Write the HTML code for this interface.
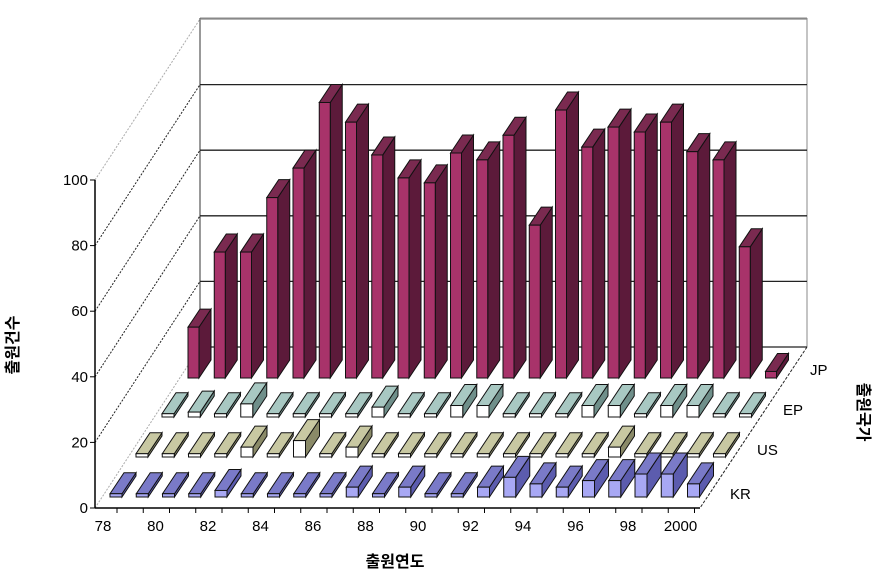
<!DOCTYPE html>
<html><head><meta charset="utf-8"><style>
body{margin:0;background:#fff;}
svg{display:block;font-family:"Liberation Sans","Noto Sans CJK KR",sans-serif;}
</style></head><body>
<svg id="chart" width="885" height="588" viewBox="0 0 885 588">
<g id="frame"></g>
<g id="bars"></g>
<g id="axes"></g>
<text x="395" y="567" font-size="16" text-anchor="middle" font-weight="bold">출원연도</text>
<text transform="translate(18,345) rotate(-90)" font-size="16" text-anchor="middle" font-weight="bold">출원건수</text>
<text transform="translate(858,412) rotate(90)" font-size="16" text-anchor="middle" font-weight="bold">출원국가</text>
</svg>
<script>
const years=["78","79","80","81","82","83","84","85","86","87","88","89","90","91","92","93","94","95","96","97","98","99","2000"];
const xLabels=["78","80","82","84","86","88","90","92","94","96","98","2000"];
const yTicks=[0,20,40,60,80,100];
const rows=["KR","US","EP","JP"];
const jpValues=[15.5,38.4,38.4,55,64,84,78,68,61,59.5,68.6,66.5,74,46.6,81.7,70.4,76.5,75,78,69,66.5,40,2];
const epValues=[1,1.5,1,4,1,1,1,1,3,1,1,3.5,3.5,1,1,1,3.5,3.5,1,3.5,3.5,1,1];
const usValues=[1,1,1,1,3,1,5,1,3,1,1,1,1,1,1,1,1,1,3,1,1,1,1];
const krValues=[1,1,1,1,2,1,1,1,1,3,1,3,1,1,3,6,4,3,5,5,7,7,4];

const NS="http://www.w3.org/2000/svg";
const PX=3.28, X0=103, STEP=26.25, Y0=508;
const rowOff={KR:[7,-11],US:[33,-51],EP:[59,-91],JP:[85,-130]};
const colors={JP:["#a8336a","#5c1a3a","#7a2a50"],EP:["#ffffff","#6f8f8a","#a8c8c2"],US:["#ffffff","#8a8a68","#c8c8a2"],KR:["#a8a8f4","#5c5cae","#7a7ac8"]};
const shape={JP:[11,12,-18],EP:[12,14,-21],US:[12,14,-21],KR:[12,14,-21]};
function xs(i,row){return X0+rowOff[row][0]+i*STEP;}
function base(row){return Y0+rowOff[row][1];}
function ys(v,row){return base(row)-v*PX;}
function el(tag,attrs,parent){const e=document.createElementNS(NS,tag);for(const k in attrs)e.setAttribute(k,attrs[k]);parent.appendChild(e);return e;}

const frame=document.getElementById('frame');
el('line',{x1:200,y1:18,x2:807,y2:18,stroke:'#888','stroke-width':1},frame);
el('line',{x1:200,y1:18,x2:200,y2:347,stroke:'#333','stroke-width':1},frame);
el('line',{x1:807,y1:18,x2:807,y2:347,stroke:'#888','stroke-width':1},frame);
yTicks.forEach(t=>{
  const by=347-t*PX, fy=Y0-t*PX;
  const g=el('line',{x1:200,y1:by,x2:807,y2:by,stroke:t===100?'#888':'#222','stroke-width':1.3},frame);
  
  
  const d=el('line',{x1:95,y1:fy,x2:200,y2:by,stroke:(t===0||t===100)?'#aaa':'#222','stroke-width':1,'stroke-dasharray':'2,1.5'},frame);
  
  
});
el('line',{x1:807,y1:347,x2:700,y2:508,stroke:'#222','stroke-width':1,'stroke-dasharray':'3,1.5'},frame);

const barsG=document.getElementById('bars');
const series={JP:jpValues,EP:epValues,US:usValues,KR:krValues};
["JP","EP","US","KR"].forEach(row=>{
  const vals=series[row], c=colors[row], b=base(row);
  const [W,DX,DY]=shape[row];
  vals.forEach((v,i)=>{
    const x=xs(i,row), y=ys(v,row);
    const g=el('g',{},barsG);
    
    
    el('polygon',{points:`${x+W},${y} ${x+W+DX},${y+DY} ${x+W+DX},${b+DY} ${x+W},${b}`,fill:c[1],stroke:'#111','stroke-width':1},g);
    el('polygon',{points:`${x},${y} ${x+DX},${y+DY} ${x+W+DX},${y+DY} ${x+W},${y}`,fill:c[2],stroke:'#111','stroke-width':1},g);
    el('rect',{x:x,y:y,width:W,height:Math.max(b-y,0.5),fill:c[0],stroke:'#111','stroke-width':1},g);
  });
});

const axes=document.getElementById('axes');
el('line',{x1:95,y1:Y0-100*PX,x2:95,y2:Y0,stroke:'#000','stroke-width':1.5},axes);
el('line',{x1:95,y1:Y0,x2:700,y2:Y0,stroke:'#000','stroke-width':1.5},axes);
yTicks.forEach(t=>{
  const y=Y0-t*PX;
  el('line',{x1:90,y1:y,x2:95,y2:y,stroke:'#000'},axes);
  const tx=el('text',{x:88,y:y+5,'font-size':15,'text-anchor':'end'},axes);
  tx.textContent=t;
  
  
});
years.forEach((yr,i)=>{
  const x=117+i*STEP;
  el('line',{x1:x,y1:Y0,x2:x,y2:Y0+5,stroke:'#000'},axes);
});
xLabels.forEach((l,k)=>{
  const tx=el('text',{x:103+k*2*STEP,y:531,'font-size':15,'text-anchor':'middle'},axes);
  tx.textContent=l;
  
  
});
const rowLabelPos={JP:[810,375],EP:[783,415],US:[757,455],KR:[730,499]};
rows.forEach(r=>{
  const tx=el('text',{x:rowLabelPos[r][0],y:rowLabelPos[r][1],'font-size':15},axes);
  tx.textContent=r;
  
  
});
</script>
</body></html>
